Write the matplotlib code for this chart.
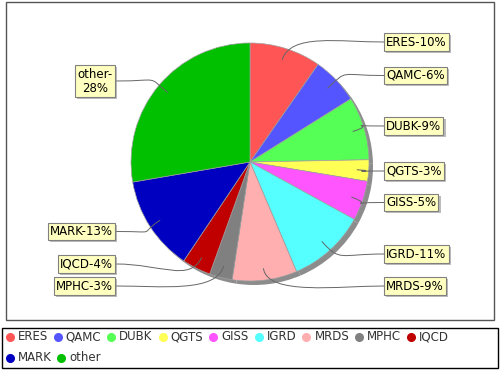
import matplotlib
matplotlib.use("Agg")
import numpy as np
import matplotlib.pyplot as plt
import matplotlib.patheffects as pe
from matplotlib.path import Path
from matplotlib.patches import PathPatch, Rectangle

names = ['ERES', 'QAMC', 'DUBK', 'QGTS', 'GISS', 'IGRD', 'MRDS', 'MPHC', 'IQCD', 'MARK', 'other']
shares = [9.7, 6.4, 8.6, 2.9, 5.4, 10.6, 8.8, 3.1, 3.9, 12.9, 27.7]
colors = ['#ff5555', '#5555ff', '#55ff55', '#ffff55', '#ff55ff', '#55ffff',
          '#ffafaf', '#808080', '#c00000', '#0000c0', '#00c000']

# label box rows (pixels from top), right side first then left side
label_rows = [42, 75.5, 126, 171, 202.5, 254, 286, 286, 264, 231.5, 81]

W, H = 500, 370
fig = plt.figure(figsize=(5, 3.7), dpi=100)
ax = fig.add_axes([0, 0, 1, 1])

cx, cy, R = 250, H - 162, 119

def Y(y):
    return H - y

# shadow then pie
ax.pie(shares, colors=['#8c8c8c'] * len(shares), radius=R, center=(cx + 4, cy - 4),
       startangle=90, counterclock=False, wedgeprops=dict(linewidth=0))
wedges, _ = ax.pie(shares, colors=colors, radius=R, center=(cx, cy),
                   startangle=90, counterclock=False,
                   wedgeprops=dict(edgecolor='#a0a0a0', linewidth=0.5))
ax.set_xlim(0, W)
ax.set_ylim(0, H)
ax.axis('off')

# plot border
ax.add_patch(Rectangle((6, Y(320)), 488, 318, fill=False, edgecolor='#555555', lw=1))

for w, name, s, row in zip(wedges, names, shares, label_rows):
    mid = np.deg2rad((w.theta1 + w.theta2) / 2)
    ux, uy = np.cos(mid), np.sin(mid)
    ax0, ay0 = cx + 0.9 * R * ux, cy + 0.9 * R * uy
    right = ux >= 0
    txt = f"{name}-{round(s)}%"
    if name == 'other':
        txt = f"{name}-\n{round(s)}%"
    if right:
        tx, ha, bx, sgn = 386, 'left', 384, -1
    else:
        tx, ha, bx, sgn = 113, 'right', 116, 1
    ty = Y(row)
    verts = [(ax0, ay0), (ax0 + 28 * ux, ay0 + 28 * uy), (bx + sgn * 45, ty), (bx, ty)]
    path = Path(verts, [Path.MOVETO, Path.CURVE4, Path.CURVE4, Path.CURVE4])
    ax.add_patch(PathPatch(path, fill=False, edgecolor='#666666', lw=0.7))
    t = ax.text(tx, ty, txt, ha=ha, va='center', multialignment='center',
                fontsize=8.5, linespacing=1.1,
                bbox=dict(boxstyle='square,pad=0.2', facecolor='#ffffc0',
                          edgecolor='#808080', lw=0.8))
    t.get_bbox_patch().set_path_effects([
        pe.SimplePatchShadow(offset=(1.5, -1.5), shadow_rgbFace='#909090', alpha=0.6),
        pe.Normal()])

# legend box with flowing items
ax.add_patch(Rectangle((2, Y(368)), 496, 40, fill=False, edgecolor='black', lw=1))
renderer = fig.canvas.get_renderer()
x, row_y = 9.5, 336.5
for name, c in zip(names, colors):
    t = ax.text(x + 8, Y(row_y), name, ha='left', va='center', fontsize=8.5, color='#333333')
    wdt = t.get_window_extent(renderer).width
    if x + 8 + wdt > 470:
        x, row_y = 9.5, 357.5
        t.set_position((x + 8, Y(row_y)))
    ax.plot([x], [Y(row_y)], marker='o', ms=5.5, color=c, mec=c, lw=0)
    x = x + 8 + wdt + 10

fig.savefig('out.png', dpi=100, facecolor='white')
